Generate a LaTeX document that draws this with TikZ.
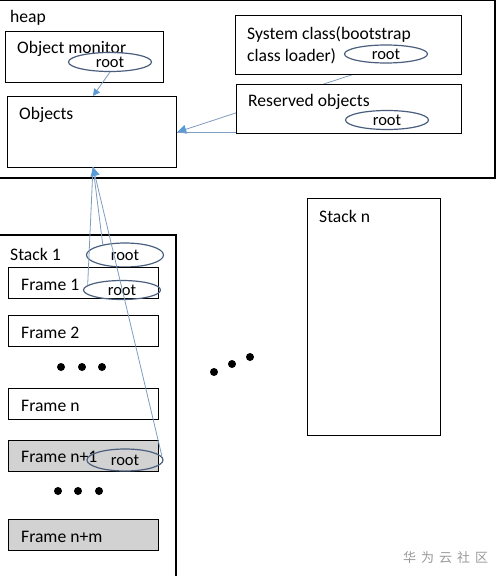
\documentclass[tikz,border=0pt]{standalone}
\usepackage{fontspec}
\setmainfont{Carlito}
\newfontfamily\cjkfont{Noto Sans CJK SC}
\usetikzlibrary{shapes.geometric,arrows.meta,backgrounds}
\definecolor{ellc}{HTML}{4A5F7E}
\definecolor{linec}{HTML}{7F9DBF}
\definecolor{tipc}{HTML}{5B9BD5}
\definecolor{framegray}{HTML}{D2D2D2}
\tikzset{
  box/.style={draw=black, line width=1.3pt, fill=white, anchor=north west, inner sep=0pt},
  graybox/.style={box, fill=framegray},
  lbl/.style={anchor=west, inner sep=0pt, font=\fontsize{17.6}{20}\selectfont},
  rootell/.style={ellipse, draw=ellc, line width=1.2pt, inner sep=0pt, font=\fontsize{16.5}{18}\selectfont},
  conn/.style={draw=linec, line width=0.8pt},
  tipped/.style={conn, -{Triangle[length=9pt,width=9pt,color=tipc]}},
  dotm/.style={circle, fill=black, inner sep=0pt, minimum size=8pt},
}
\begin{document}
\begin{tikzpicture}[x=1pt,y=-1pt]
\useasboundingbox (0,0) rectangle (496,576);
\clip (0,0) rectangle (496,576);
% heap frame
\draw[line width=1.3pt] (-5,0.7) rectangle (495,178);
\node[lbl] (heaplbl) at (10,18) {heap};
% object monitor
\node[box, minimum width=158pt, minimum height=51pt] (mon) at (5,31) {};
\node[lbl] (monlbl) at (17,49) {Object monitor};
\node[rootell, minimum width=83pt, minimum height=19pt] (mroot) at (110,62) {root};
% objects
\node[box, minimum width=169pt, minimum height=71pt] (objects) at (7,96) {};
\node[lbl] (objlbl) at (19,115) {Objects};
% system class
\node[box, minimum width=226pt, minimum height=59pt] (sys) at (235,15) {};
\node[lbl] (syslbl1) at (247,34) {System class(bootstrap};
\node[lbl] (syslbl2) at (247,56) {class loader)};
\node[rootell, minimum width=83pt, minimum height=18pt] (sroot) at (386,54) {root};
% reserved objects
\node[box, minimum width=225pt, minimum height=49pt] (resv) at (236,84) {};
\node[lbl] (resvlbl) at (248,102) {Reserved objects};
\node[rootell, minimum width=83pt, minimum height=19pt] (rroot) at (387,120) {root};
\begin{scope}[on background layer]
  \draw[tipped] (sroot.south) -- (objects.east);
  \draw[conn] (rroot) |- (objects.east);
\end{scope}
% stack 1
\draw[line width=1.3pt] (-5,600) |- (176,235) -- (176,600);
\node[lbl] (st1lbl) at (10,254) {Stack 1};
\node[rootell, minimum width=77pt, minimum height=24pt] (stroot) at (125,255) {root};
\node[box, minimum width=150pt, minimum height=31pt] (f1) at (8,267) {};
\node[lbl] (f1lbl) at (21,285) {Frame 1};
\node[rootell, minimum width=77pt, minimum height=19pt] (f1root) at (122,290) {root};
\node[box, minimum width=150pt, minimum height=31pt] (f2) at (8,315) {};
\node[lbl] (f2lbl) at (21,333) {Frame 2};
\node[dotm] (d1) at (61,367) {};
\node[dotm] (d2) at (82,367) {};
\node[dotm] (d3) at (102,367) {};
\node[box, minimum width=150pt, minimum height=31pt] (fn) at (8,388) {};
\node[lbl] (fnlbl) at (21,406) {Frame n};
\node[graybox, minimum width=150pt, minimum height=31pt] (fn1) at (8,440) {};
\node[lbl] (fn1lbl) at (21,457) {Frame n+1};
\node[rootell, minimum width=76pt, minimum height=22pt] (fn1root) at (125,460) {root};
\node[dotm] (d4) at (58,491) {};
\node[dotm] (d5) at (78,491) {};
\node[dotm] (d6) at (99,491) {};
\node[graybox, minimum width=150pt, minimum height=31pt] (fnm) at (8,519) {};
\node[lbl] (fnmlbl) at (21,537) {Frame n+m};
% middle dots
\node[dotm] (d7) at (214,372) {};
\node[dotm] (d8) at (232,364) {};
\node[dotm] (d9) at (250,357) {};
% stack n
\node[box, minimum width=133pt, minimum height=237pt] (stn) at (307,198) {};
\node[lbl] (stnlbl) at (319,216) {Stack n};
% connectors
\coordinate (objbot) at (93,167);
\coordinate (objtop) at (93,96);
\draw[tipped, -{Triangle[length=7pt,width=7pt,color=tipc]}] (mroot.south) -- (objtop);
\draw[conn] (stroot.155) -- (objbot);
\draw[conn] (f1root.172) -- (objbot);
\draw[tipped] (fn1root.5) -- (objbot);
% watermark
\node[anchor=west, inner sep=0pt, text=black!40, font=\cjkfont\fontsize{13}{15}\selectfont] (wm) at (403,558) {华\hspace{5pt}为\hspace{5pt}云\hspace{5pt}社\hspace{5pt}区};
\end{tikzpicture}
\end{document}
